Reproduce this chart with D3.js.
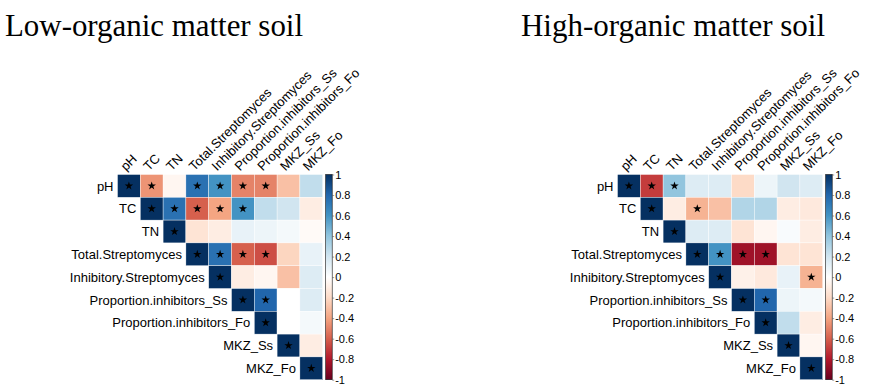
<!DOCTYPE html>
<html>
<head>
<meta charset="utf-8">
<script src="https://cdn.jsdelivr.net/npm/d3@7"></script>
<style>
  body { margin: 0; background: #fff; }
  .title { font-family: "Liberation Serif", "Times New Roman", serif; font-size: 31px; fill: #000; }
  .lab { font-family: "Liberation Sans", Arial, sans-serif; font-size: 13px; fill: #000; }
  .leg text { font-family: "Liberation Sans", Arial, sans-serif; font-size: 11px; fill: #000; }
</style>
</head>
<body>
<svg width="870" height="391"></svg>
<script>
// variable names (rows and columns)
const vars = ['pH', 'TC', 'TN', 'Total.Streptomyces', 'Inhibitory.Streptomyces',
  'Proportion.inhibitors_Ss', 'Proportion.inhibitors_Fo', 'MKZ_Ss', 'MKZ_Fo'];

// upper triangle of the correlation matrix, row by row (diagonal included)
const lowCorr = [
  [1, -0.45, -0.05, 0.75, 0.6, -0.5, -0.5, -0.3, 0.25],
  [1, 0.75, -0.6, -0.4, 0.6, 0.25, 0.2, -0.1],
  [1, -0.15, -0.1, 0.1, 0.08, 0.05, -0.03],
  [1, 0.75, -0.6, -0.65, -0.22, 0.1],
  [1, -0.1, -0.05, -0.3, 0.15],
  [1, 0.8, 0.0, 0.15],
  [1, 0.0, 0.05],
  [1, -0.1],
  [1]
];
const highCorr = [
  [1, -0.7, 0.4, 0.15, 0.15, -0.2, 0.08, 0.2, 0.15],
  [1, -0.1, -0.35, -0.3, 0.3, 0.3, -0.1, -0.12],
  [1, 0.15, 0.15, -0.15, -0.05, 0.03, -0.1],
  [1, 0.6, -0.85, -0.85, -0.15, -0.15],
  [1, -0.08, -0.12, 0.1, -0.35],
  [1, 0.8, 0.08, 0.05],
  [1, 0.25, -0.1],
  [1, -0.05],
  [1]
];

// significant pairs [row, col] (diagonal always marked)
const lowSig = [[0,1],[0,3],[0,4],[0,5],[0,6],[1,2],[1,3],[1,4],[1,5],[3,4],[3,5],[3,6],[5,6]];
const highSig = [[0,1],[0,2],[1,3],[3,4],[3,5],[3,6],[4,8],[5,6]];

const titles = ['Low-organic matter soil', 'High-organic matter soil'];
const legendTicks = [1, 0.8, 0.6, 0.4, 0.2, 0, -0.2, -0.4, -0.6, -0.8, -1];

// corrplot RdBu palette
const palette = ['#67001F', '#B2182B', '#D6604D', '#F4A582', '#FDDBC7', '#FFFFFF',
  '#D1E5F0', '#92C5DE', '#4393C3', '#2166AC', '#053061'];
const color = d3.scaleLinear()
  .domain(d3.range(palette.length).map(i => -1 + i * 2 / (palette.length - 1)))
  .range(palette);

const svg = d3.select('svg');

// gradient for the colour legend
const grad = svg.append('defs').append('linearGradient')
  .attr('id', 'cbar').attr('x1', 0).attr('x2', 0).attr('y1', 1).attr('y2', 0);
palette.forEach((c, i) => {
  grad.append('stop').attr('offset', i / (palette.length - 1)).attr('stop-color', c);
});

const panels = [
  {corr: lowCorr, sig: lowSig, title: titles[0], x0: 117.5, tx: 5, tw: 298},
  {corr: highCorr, sig: highSig, title: titles[1], x0: 617.5, tx: 521, tw: 304}
];

const y0 = 174.5;
const size = 9 * 22.8;

panels.forEach(p => {
  const g = svg.append('g');

  g.append('text')
    .attr('class', 'title')
    .attr('x', p.tx)
    .attr('y', 36)
    .attr('textLength', p.tw)
    .attr('lengthAdjust', 'spacingAndGlyphs')
    .text(p.title);

  const xScale = d3.scaleBand().domain(vars).range([p.x0, p.x0 + size]);
  const yScale = d3.scaleBand().domain(vars).range([y0, y0 + size]);
  const bw = xScale.bandwidth();

  // flatten the triangle into cells
  const cells = [];
  p.corr.forEach((row, i) => {
    row.forEach((v, k) => {
      cells.push({r: i, c: i + k, v: v});
    });
  });

  g.selectAll('rect.cell')
    .data(cells)
    .enter()
    .append('rect')
      .attr('class', 'cell')
      .attr('x', d => xScale(vars[d.c]))
      .attr('y', d => yScale(vars[d.r]))
      .attr('width', bw)
      .attr('height', bw)
      .attr('fill', d => color(d.v))
      .attr('stroke', '#fff')
      .attr('stroke-width', 0.4);

  // significance stars
  const stars = vars.map((v, i) => [i, i]).concat(p.sig);
  g.selectAll('path.star')
    .data(stars)
    .enter()
    .append('path')
      .attr('class', 'star')
      .attr('d', d3.symbol(d3.symbolStar).size(22))
      .attr('transform', d => `translate(${xScale(vars[d[1]]) + bw / 2}, ${yScale(vars[d[0]]) + bw / 2})`)
      .attr('fill', '#000');

  // row labels, right aligned before the diagonal cell
  g.selectAll('text.row')
    .data(vars)
    .enter()
    .append('text')
      .attr('class', 'lab row')
      .attr('x', d => xScale(d) - 4)
      .attr('y', d => yScale(d) + bw / 2)
      .attr('dy', '0.36em')
      .attr('text-anchor', 'end')
      .text(d => d);

  // column labels, rotated 45 degrees
  g.selectAll('text.col')
    .data(vars)
    .enter()
    .append('text')
      .attr('class', 'lab col')
      .attr('transform', d => `translate(${xScale(d) + bw / 2 - 3}, ${y0 - 3}) rotate(-45)`)
      .text(d => d);

  // colour legend
  const lx = p.x0 + size + 3;
  const legScale = d3.scaleLinear().domain([-1, 1]).range([y0 + size, y0]);
  g.append('rect')
    .attr('x', lx)
    .attr('y', y0)
    .attr('width', 6.5)
    .attr('height', size)
    .attr('fill', 'url(#cbar)')
    .attr('stroke', '#111')
    .attr('stroke-width', 0.6);

  const leg = g.append('g')
    .attr('class', 'leg')
    .attr('transform', `translate(${lx + 6.5}, 0)`)
    .call(d3.axisRight(legScale).tickValues(legendTicks).tickSize(2).tickPadding(1)
      .tickFormat(d => String(+d.toFixed(1))));
  leg.select('.domain').remove();
  leg.selectAll('.tick line').attr('stroke', '#555').attr('stroke-width', 0.6);
});
</script>
</body>
</html>
